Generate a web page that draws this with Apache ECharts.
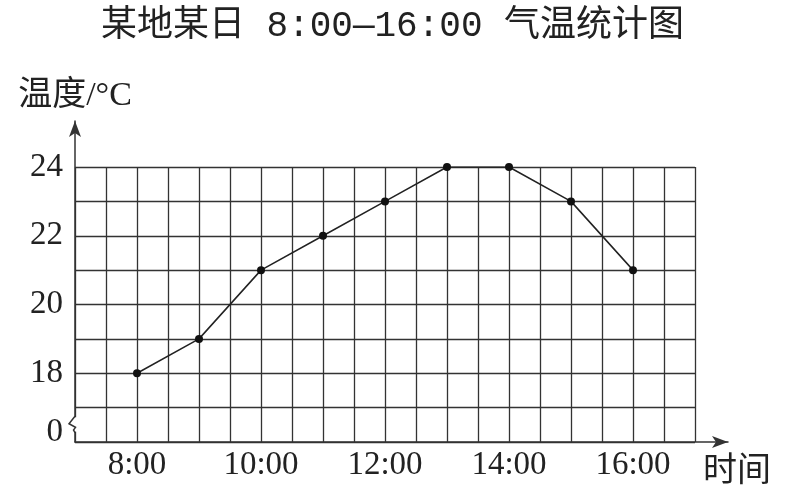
<!DOCTYPE html>
<html>
<head>
<meta charset="utf-8">
<script src="https://cdn.jsdelivr.net/npm/echarts@6/dist/echarts.min.js"></script>
<style>html,body{margin:0;padding:0;background:#fff;}#c{width:785px;height:490px;}</style>
</head>
<body>
<div id="c"></div>
<script>
var hours = [8, 9, 10, 11, 12, 13, 14, 15, 16];
var temps = [18, 19, 21, 22, 23, 24, 24, 23, 21];
var yLabels = [18, 20, 22, 24];
var xLabels = [8, 10, 12, 14, 16];

var serif = '"Liberation Serif", "Noto Sans CJK SC", serif';
var ink = '#222';
var lineCol = '#333';

var chart = echarts.init(document.getElementById('c'), null, {renderer: 'canvas'});
var option = {
  backgroundColor: '#fff',
  animation: false,
  title: {
    text: '某地某日 8:00—16:00 气温统计图',
    left: 'center',
    top: 3,
    textStyle: {fontFamily: '"Liberation Mono", "Noto Sans CJK SC", monospace', fontSize: 36, fontWeight: 'normal', color: ink}
  },
  grid: [
    {left: 75, right: 90, top: 167, bottom: 48},
    {left: 75, right: 57, top: 121, bottom: 48}
  ],
  xAxis: [
    {
      type: 'value', gridIndex: 0, min: 7, max: 17, interval: 0.5,
      axisLine: {show: false}, axisTick: {show: false},
      splitLine: {show: true, lineStyle: {color: lineCol, width: 1.3}},
      axisLabel: {
        margin: 7, fontFamily: serif, fontSize: 33, color: ink,
        formatter: function (v) { return xLabels.indexOf(v) >= 0 ? v + ':00' : ''; }
      }
    },
    {
      type: 'value', gridIndex: 1, min: 0, max: 1,
      axisLine: {show: true, symbol: ['none', 'arrow'], symbolSize: [9, 16], lineStyle: {color: lineCol, width: 1.5}},
      axisTick: {show: false}, axisLabel: {show: false}, splitLine: {show: false},
      name: '时间', nameLocation: 'end', nameGap: -25,
      nameTextStyle: {fontFamily: serif, fontSize: 34, color: ink, align: 'left', verticalAlign: 'top', padding: [13, 0, 0, 0]}
    }
  ],
  yAxis: [
    {
      type: 'value', gridIndex: 0, min: 16, max: 24, interval: 1,
      axisLine: {show: false}, axisTick: {show: false},
      splitLine: {show: true, lineStyle: {color: lineCol, width: 1.3}},
      axisLabel: {
        margin: 12, fontFamily: serif, fontSize: 33, color: ink,
        formatter: function (v) {
          if (v === 16) return '{z|0}';
          return yLabels.indexOf(v) >= 0 ? String(v) : '';
        },
        rich: {z: {fontFamily: serif, fontSize: 33, color: ink, padding: [0, 0, 20, 0]}}
      }
    },
    {
      type: 'value', gridIndex: 1, min: 0, max: 1,
      axisLine: {show: true, symbol: ['none', 'arrow'], symbolSize: [9, 16], lineStyle: {color: lineCol, width: 1.5}},
      axisTick: {show: false}, axisLabel: {show: false}, splitLine: {show: false},
      name: '温度/°C', nameLocation: 'end', nameGap: 8,
      nameTextStyle: {fontFamily: serif, fontSize: 34, color: ink, align: 'center', verticalAlign: 'bottom'}
    }
  ],
  series: [{
    type: 'line', xAxisIndex: 0, yAxisIndex: 0,
    data: hours.map(function (h, i) { return [h, temps[i]]; }),
    symbol: 'circle', symbolSize: 8,
    lineStyle: {color: '#222', width: 1.5},
    itemStyle: {color: '#111'},
    z: 5
  }]
};
chart.setOption(option);

// axis break mark on the y axis, positioned through the axis scale
var pTop = chart.convertToPixel({gridIndex: 0}, [7, 16.72]);
var pBot = chart.convertToPixel({gridIndex: 0}, [7, 16.3]);
var ax = pTop[0], y1 = pTop[1], y2 = pBot[1];
var h = y2 - y1;
chart.setOption({
  graphic: [
    {type: 'rect', z: 100, shape: {x: ax - 2, y: y1, width: 4, height: h}, style: {fill: '#fff'}},
    {type: 'polyline', z: 101, shape: {points: [[ax, y1 - 1], [ax - 6, y1 + h * 0.45], [ax + 0.5, y1 + h * 0.7], [ax - 1.5, y1 + h * 0.88], [ax, y2 + 1]]},
      style: {stroke: lineCol, lineWidth: 1.5, fill: 'none'}}
  ]
});
</script>
</body>
</html>
